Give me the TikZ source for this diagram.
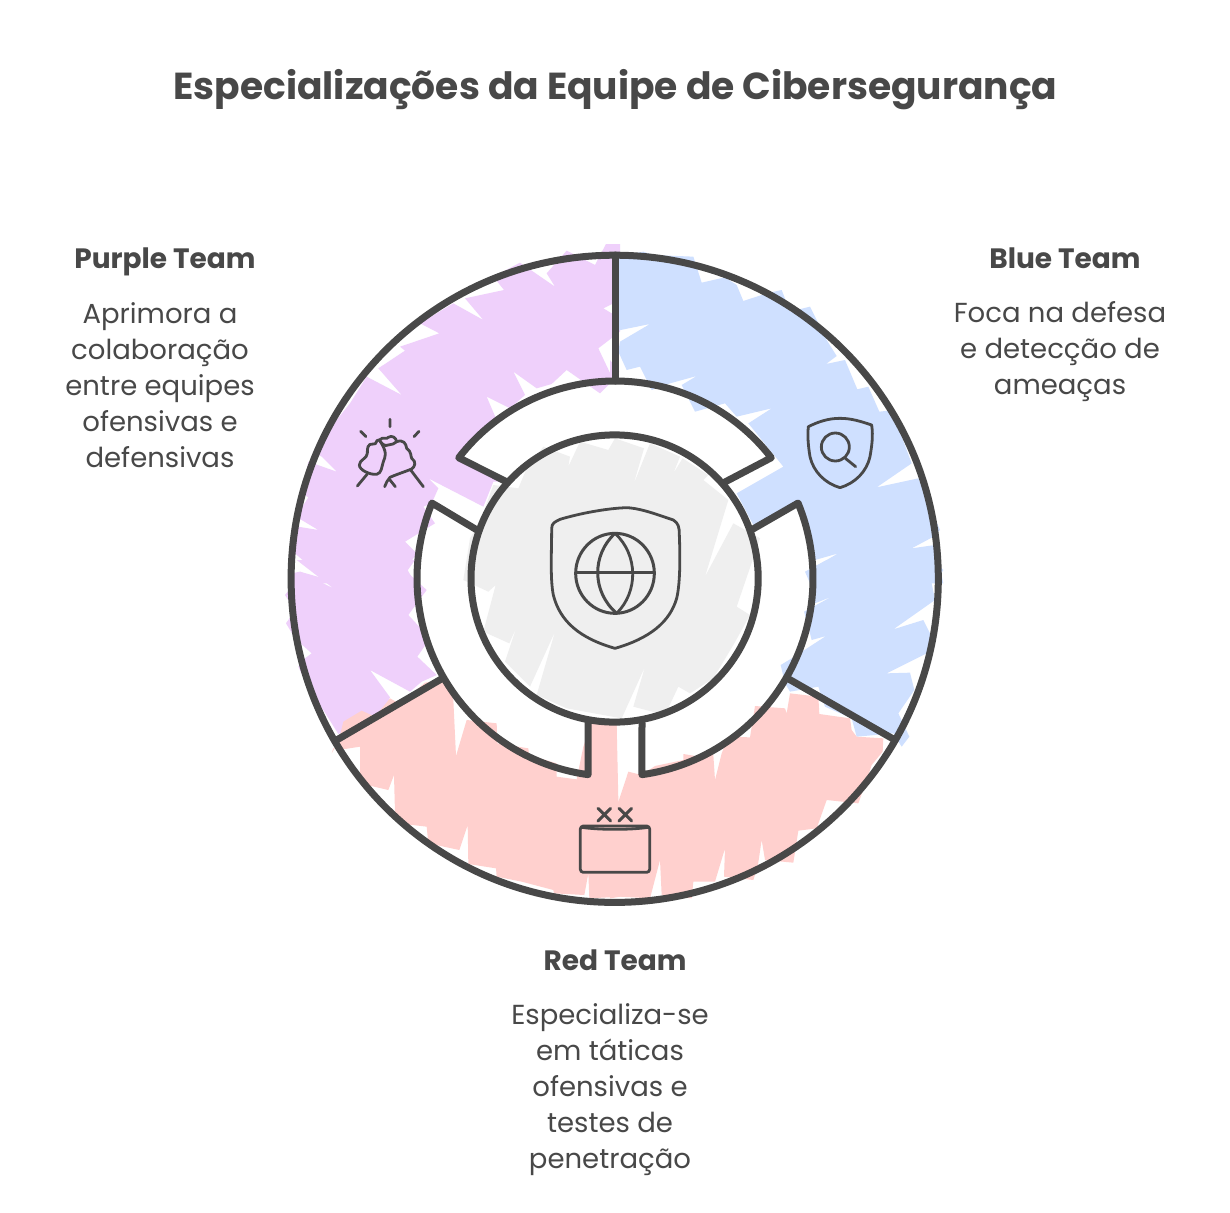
\documentclass[tikz,border=0pt]{standalone}
\usepackage{fontspec}
\setmainfont{Poppins}
\definecolor{ink}{HTML}{484848}
\definecolor{pfill}{HTML}{EFD0FB}
\definecolor{bfill}{HTML}{CFE0FF}
\definecolor{rfill}{HTML}{FFD0CE}
\definecolor{gfill}{HTML}{EFEFEF}
\tikzset{
  zoomed/.style={x=0.33333pt,y=-0.33333pt},
  wheel/.style={draw=ink,line width=7pt,line join=round,line cap=round},
  icon/.style={draw=ink,line width=2.8pt,line join=round,line cap=round},
  titletext/.style={text=ink,font=\bfseries\fontsize{37.6}{44}\selectfont},
  headtext/.style={text=ink,font=\bfseries\fontsize{28}{36}\selectfont},
  bodytext/.style={text=ink,align=center,font=\fontsize{27.5}{36}\selectfont}
}
\begin{document}
\begin{tikzpicture}[x=1pt,y=-1pt]
\useasboundingbox (0,0) rectangle (1230,1212);
\fill[white] (0,0) rectangle (1230,1212);

% ---- purple fill
\begin{scope}[shift={(280,240)},zoomed]
\fill[pfill] (1020,12)--(978,12)--(945,75)--(860,32)--(800,100)--(825,140)--(745,85)--(720,68)--(640,110)--(672,150)--(555,175)--(610,240)--(520,190)--(420,250)--(478,280)--(360,320)--(375,332)--(295,385)--(365,465)--(260,410)--(210,490)--(130,590)--(105,640)--(125,650)--(170,695)--(85,665)--(65,760)--(85,772)--(48,830)--(115,870)--(42,858)--(35,930)--(45,940)--(130,1015)--(60,995)--(35,1000)--(35,1030)--(405,1030)--(380,985)--(410,940)--(375,905)--(465,850)--(430,800)--(455,790)--(475,745)--(445,715)--(610,800)--(640,725)--(675,725)--(535,650)--(600,575)--(650,540)--(620,470)--(690,505)--(735,465)--(700,395)--(770,445)--(815,432)--(860,390)--(960,460)--(1000,420)--(955,325)--(1020,275)--(1020,235)--(970,205)--(1020,180)--cycle;
\end{scope}
\begin{scope}[shift={(280,560)},zoomed]
\fill[pfill] (50,0)--(160,85)--(60,35)--(35,80)--(15,105)--(45,150)--(18,190)--(45,235)--(95,280)--(75,295)--(55,320)--(80,375)--(130,450)--(175,522)--(300,465)--(330,412)--(270,330)--(390,395)--(425,365)--(470,345)--(412,290)--(450,235)--(385,165)--(440,90)--(380,35)--(405,0)--cycle;
\end{scope}
\begin{scope}[shift={(610,240)},zoomed]
\fill[pfill] (0,12)--(22,12)--(22,60)--(0,60)--cycle;
\fill[pfill] (0,60)--(25,110)--(45,150)--(22,170)--(0,170)--cycle;
\fill[pfill] (0,360)--(28,395)--(15,410)--(0,410)--cycle;
\end{scope}

% ---- blue fill
\begin{scope}[shift={(610,240)},zoomed]
\fill[bfill] (430,855)--(565,790)--(600,900)--(615,960)--(685,940)--(615,980)--(600,1030)--(1000,1030)--(975,915)--(905,925)--(965,893)--(990,870)--(960,800)--(925,715)--(800,742)--(905,670)--(875,590)--(835,512)--(808,515)--(775,440)--(725,452)--(742,448)--(705,360)--(648,372)--(680,348)--(650,300)--(600,200)--(540,215)--(515,150)--(470,160)--(400,183)--(380,135)--(345,112)--(275,128)--(250,50)--(130,45)--(100,35)--(20,50)--(22,272)--(120,252)--(30,305)--(25,335)--(50,390)--(90,380)--(125,450)--(180,430)--(260,408)--(215,435)--(255,515)--(345,490)--(380,530)--(485,505)--(415,550)--(520,680)--(380,760)--cycle;
\end{scope}
\begin{scope}[shift={(730,560)},zoomed]
\fill[bfill] (225,35)--(290,0)--(610,0)--(640,30)--(615,70)--(602,55)--(615,120)--(490,208)--(580,180)--(605,230)--(590,280)--(470,340)--(540,338)--(553,390)--(505,460)--(538,530)--(515,560)--(490,520)--(380,530)--(365,475)--(285,440)--(265,380)--(180,395)--(165,370)--(152,315)--(185,295)--(288,228)--(245,240)--(235,200)--(222,155)--(305,110)--(255,130)--(240,70)--cycle;
\end{scope}

% ---- red fill
\begin{scope}[shift={(330,680)},zoomed]
\fill[rfill] (5,220)--(25,185)--(40,125)--(95,92)--(135,110)--(180,55)--(210,72)--(285,8)--(340,0)--(350,5)--(370,60)--(378,228)--(410,120)--(500,130)--(502,190)--(595,205)--(597,225)--(680,250)--(680,290)--(740,298)--(760,200)--(785,130)--(860,135)--(865,360)--(875,400)--(875,650)--(778,655)--(775,580)--(763,645)--(672,640)--(670,630)--(575,605)--(500,590)--(498,565)--(415,552)--(413,435)--(388,510)--(295,490)--(290,440)--(205,430)--(195,400)--(192,285)--(175,330)--(90,310)--(90,200)--(45,207)--(10,205)--cycle;
\end{scope}
\begin{scope}[shift={(610,680)},zoomed]
\fill[rfill] (0,135)--(20,135)--(22,375)--(55,275)--(95,285)--(135,258)--(220,240)--(220,222)--(270,230)--(310,225)--(315,300)--(335,220)--(355,170)--(420,172)--(435,78)--(525,85)--(530,100)--(540,40)--(625,50)--(628,102)--(720,115)--(725,150)--(740,170)--(820,175)--(818,215)--(785,255)--(770,300)--(745,370)--(650,360)--(620,445)--(565,452)--(550,548)--(465,540)--(455,480)--(443,560)--(430,600)--(342,590)--(345,505)--(315,605)--(250,605)--(245,655)--(155,645)--(150,540)--(120,655)--(30,650)--(0,655)--cycle;
\end{scope}

% ---- grey fill
\begin{scope}[shift={(460,425)},zoomed]
\fill[gfill] (100,180)--(175,190)--(200,130)--(250,65)--(330,95)--(325,125)--(360,50)--(445,75)--(465,40)--(552,70)--(520,180)--(570,55)--(660,95)--(640,145)--(668,100)--(745,150)--(730,165)--(805,225)--(735,455)--(820,295)--(900,340)--(830,545)--(870,570)--(820,660)--(760,760)--(690,805)--(655,785)--(615,870)--(520,845)--(555,725)--(485,880)--(320,850)--(230,810)--(285,620)--(210,785)--(135,710)--(170,605)--(148,655)--(70,620)--(107,480)--(85,500)--(10,465)--(30,340)--(60,290)--cycle;
\end{scope}

% ---- wheel outlines
\draw[wheel] (614.7,578.8) circle[radius=323.6];
\draw[wheel] (614.6,578.5) circle[radius=143.6];
\draw[wheel] (615,255)--(615,381);
\draw[wheel] (336.7,740)--(443,678);
\draw[wheel] (787,678)--(895,740);
\draw[wheel] (507,482)--plot[domain=142.3:37.7,samples=60]({615+197.5*cos(\x)},{578.5-197.5*sin(\x)})--(725,482);
\draw[wheel] (753,529)--plot[domain=22.4:-82.2,samples=60]({615+198*cos(\x)},{578.5-198*sin(\x)})--(642,723);
\draw[wheel] (477,530)--plot[domain=157.6:262.2,samples=60]({615+198*cos(\x)},{578.5-198*sin(\x)})--(588,723);

% ---- handshake icon
\begin{scope}[shift={(280,240)},zoomed]
\draw[icon] (330,538)--(330,560) (242,574)--(258,590) (417,574)--(402,590);
\draw[icon] (298,600) .. controls (285,598) and (292,615) .. (280,612) .. controls (262,610) and (262,625) .. (262,640) .. controls (262,655) and (238,660) .. (238,675) .. controls (238,690) and (270,705) .. (290,703) .. controls (305,700) and (305,680) .. (310,665) .. controls (315,650) and (325,640) .. cycle;
\draw[icon] (262,702)--(232,738);
\draw[icon] (298,600) .. controls (310,588) and (320,600) .. (325,592) .. controls (335,585) and (348,592) .. (350,605) .. controls (370,598) and (378,610) .. (380,625) .. controls (395,635) and (392,650) .. (395,655) .. controls (410,665) and (405,680) .. (395,687) .. controls (375,695) and (345,705) .. (330,712) .. controls (322,720) and (318,730) .. (314,740);
\draw[icon] (298,600) .. controls (305,612) and (315,620) .. (325,615) .. controls (335,615) and (345,610) .. (350,605);
\draw[icon] (330,720)--(346,740);
\draw[icon] (392,690)--(430,740);
\end{scope}

% ---- magnifier shield icon
\begin{scope}[shift={(610,240)},zoomed]
\draw[icon] (595,560) .. controls (625,545) and (655,535) .. (690,535) .. controls (725,535) and (755,545) .. (785,555) .. controls (790,590) and (785,620) .. (780,650) .. controls (770,695) and (735,730) .. (690,743) .. controls (645,730) and (610,695) .. (600,650) .. controls (595,620) and (592,590) .. cycle;
\draw[icon] (676,621) circle[x radius=42,y radius=42];
\draw[icon] (706,655)--(737,680);
\end{scope}

% ---- window icon
\begin{scope}[shift={(400,640)},zoomed]
\draw[icon,line width=3pt] (594,505)--(632,543) (632,505)--(594,543) (657,505)--(695,543) (695,505)--(657,543);
\draw[icon,rounded corners=3pt] (541,558)--(749,558)--(749,697)--(541,697)--cycle;
\draw[icon] (545,562) .. controls (600,570) and (690,570) .. (745,562);
\end{scope}

% ---- globe shield icon
\begin{scope}[shift={(460,425)},zoomed]
\draw[icon] (275,310) .. controls (275,295) and (285,290) .. (300,283) .. controls (360,265) and (440,250) .. (500,248) .. controls (545,250) and (600,272) .. (640,285) .. controls (655,295) and (658,305) .. (658,330) .. controls (660,380) and (662,470) .. (650,520) .. controls (630,590) and (570,640) .. (465,670) .. controls (360,640) and (300,590) .. (280,510) .. controls (270,460) and (275,380) .. cycle;
\draw[icon,line width=3pt] (465,445) circle[x radius=118,y radius=120];
\draw[icon,line width=3pt] (465,325) .. controls (395,390) and (395,500) .. (470,565);
\draw[icon] (465,325) .. controls (535,390) and (535,500) .. (470,565);
\draw[icon] (348,443)--(582,443);
\end{scope}

% ---- text
\node[titletext] (title) at (615.5,90) {Especializações da Equipe de Cibersegurança};
\node[headtext,text height=22pt,text depth=7pt] (purplehead) at (165,261) {Purple Team};
\node[headtext,text height=22pt,text depth=7pt] (bluehead) at (1065,261) {Blue Team};
\node[headtext,text height=22pt,text depth=7pt] (redhead) at (615,963) {Red Team};
\node[bodytext] (purplebody) at (160,385) {Aprimora a\\colaboração\\entre equipes\\ofensivas e\\defensivas};
\node[bodytext] (bluebody) at (1060,352) {Foca na defesa\\e detecção de\\ameaças};
\node[bodytext] (redbody) at (610,1090) {Especializa-se\\em táticas\\ofensivas e\\testes de\\penetração};
\end{tikzpicture}
\end{document}
